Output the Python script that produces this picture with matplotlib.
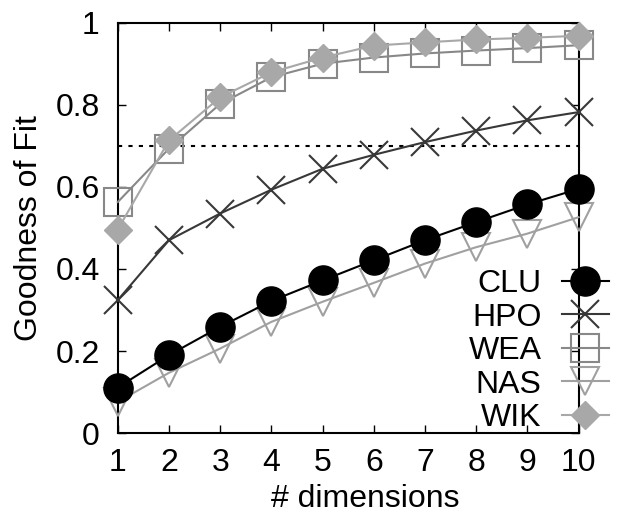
import numpy as np
import matplotlib
matplotlib.use('Agg')
import matplotlib.pyplot as plt

plt.rcParams['font.family'] = ['Liberation Sans', 'DejaVu Sans']

dims = [1, 2, 3, 4, 5, 6, 7, 8, 9, 10]
clu = [0.111, 0.19, 0.259, 0.322, 0.372, 0.421, 0.470, 0.514, 0.557, 0.595]
hpo = [0.324, 0.47, 0.535, 0.593, 0.644, 0.678, 0.709, 0.737, 0.762, 0.782]
wea = [0.563, 0.693, 0.802, 0.867, 0.900, 0.915, 0.925, 0.932, 0.938, 0.945]
nas = [0.076, 0.147, 0.206, 0.271, 0.32, 0.366, 0.413, 0.453, 0.486, 0.526]
wik = [0.496, 0.713, 0.818, 0.879, 0.915, 0.944, 0.952, 0.959, 0.963, 0.968]
threshold = 0.7

fig = plt.figure(figsize=(6.4, 5.15), dpi=100)
ax = fig.add_axes([0.184, 0.159, 0.72, 0.797])

# dotted threshold line
ax.axhline(threshold, color='black', linestyle=(0, (2, 3)), linewidth=1.5, zorder=1)

ax.plot(dims, clu, color='black', marker='o', ms=21, lw=1.5,
        label='CLU', zorder=5, clip_on=False)
ax.plot(dims, hpo, color='#383838', marker='x', ms=20, mew=1.5, lw=1.5,
        label='HPO', zorder=4, clip_on=False)
ax.plot(dims, wea, color='#888888', marker='s', ms=20, mfc='none', mew=1.5,
        lw=1.5, label='WEA', zorder=3, clip_on=False)
ax.plot(dims, nas, color='#a0a0a0', marker='v', ms=20, mfc='none', mew=1.5,
        lw=1.5, label='NAS', zorder=3, clip_on=False)
ax.plot(dims, wik, color='#a8a8a8', marker='D', ms=14, mew=1, lw=1.5,
        label='WIK', zorder=4, clip_on=False)

ax.set_xlim(1, 10)
ax.set_ylim(0, 1)
ax.set_xticks(dims)
ax.set_yticks([0, 0.2, 0.4, 0.6, 0.8, 1])
ax.set_yticklabels(['0', '0.2', '0.4', '0.6', '0.8', '1'])
ax.tick_params(direction='in', length=5.5, width=1, labelsize=23,
               top=True, right=True)
ax.tick_params(axis='x', pad=11)
ax.tick_params(axis='y', pad=13)
for s in ax.spines.values():
    s.set_linewidth(1.5)

ax.set_xlabel('# dimensions', fontsize=23)
ax.set_ylabel('Goodness of Fit', fontsize=23)
ax.xaxis.set_label_coords(0.538, -0.124)
ax.yaxis.set_label_coords(-0.16, 0.5)

leg = ax.legend(loc='lower right', bbox_to_anchor=(1.067, 0.0),
                frameon=False, fontsize=23, markerfirst=False,
                handlelength=1.5, handletextpad=0.63, labelspacing=0.11,
                borderaxespad=0, borderpad=0)
for t in leg.get_texts():
    t.set_ha('right')

fig.savefig('out.png', dpi=100)
